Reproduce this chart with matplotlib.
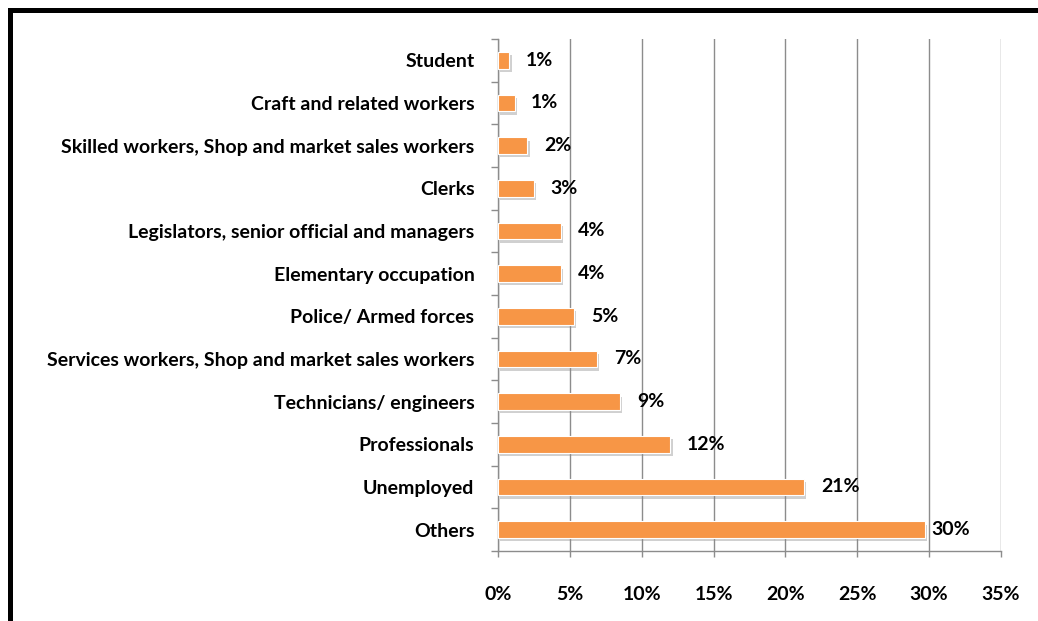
import matplotlib
matplotlib.use("Agg")
import matplotlib.pyplot as plt
import matplotlib.patheffects as pe
from matplotlib.lines import Line2D
from matplotlib.ticker import FixedLocator, FuncFormatter
import numpy as np

# Occupation categories, listed from top to bottom
categories = [
    "Student",
    "Craft and related workers",
    "Skilled workers, Shop and market sales workers",
    "Clerks",
    "Legislators, senior official and managers",
    "Elementary occupation",
    "Police/ Armed forces",
    "Services workers, Shop and market sales workers",
    "Technicians/ engineers",
    "Professionals",
    "Unemployed",
    "Others",
]
# Share of respondents (%)
shares = [0.8, 1.15, 2.05, 2.5, 4.4, 4.4, 5.3, 6.9, 8.5, 12.0, 21.3, 29.7]
x_ticks = [0, 5, 10, 15, 20, 25, 30, 35]

BAR = "#F79646"
GRID = "#8C8C8C"
FONT = ["Lato", "DejaVu Sans"]
FS = 14

fig = plt.figure(figsize=(10.38, 6.21), dpi=100)
ax = fig.add_axes([498 / 1038, 1 - 551 / 621, (1001 - 498) / 1038, (551 - 39) / 621])

n = len(categories)
y = np.arange(n)
bars = ax.barh(y, shares, height=0.39, color=BAR, edgecolor="white",
               linewidth=0.8, zorder=3)
for b in bars:
    b.set_path_effects([
        pe.SimplePatchShadow(offset=(1.6, -2.4), shadow_rgbFace="#8a8a8a", alpha=0.4),
        pe.Normal(),
    ])

ax.set_ylim(n - 0.5, -0.5)
ax.set_xlim(0, 35)

# Value labels to the right of each bar (tighter gap for the longest bar)
vmax = max(shares)
for yi, v in zip(y, shares):
    label = f"{int(v + 0.5)}%"
    dx = 5 if v == vmax else 12
    ax.annotate(label, xy=(v, yi), xytext=(dx, 0), textcoords="offset points",
                ha="left", va="center", fontsize=FS, fontweight="bold",
                family=FONT, color="black", zorder=4)

# Axes styling
ax.xaxis.set_major_locator(FixedLocator(x_ticks))
ax.xaxis.set_major_formatter(FuncFormatter(lambda v, p: f"{int(v)}%"))
ax.grid(axis="x", color=GRID, linewidth=1.0, zorder=0)
ax.set_axisbelow(True)

ax.set_yticks(y)
ax.set_yticklabels(categories)
ax.set_yticks(np.arange(n + 1) - 0.5, minor=True)
ax.tick_params(axis="y", which="major", length=0, pad=17)
ax.tick_params(axis="y", which="minor", length=5, width=1.0, color=GRID)
ax.tick_params(axis="x", which="major", length=4, width=1.0, color=GRID, pad=21)

for lab in ax.get_yticklabels() + ax.get_xticklabels():
    lab.set_family(FONT)
    lab.set_fontweight("bold")
    lab.set_fontsize(FS)
    lab.set_color("black")

for side in ("top", "right"):
    ax.spines[side].set_visible(False)
for side in ("left", "bottom"):
    ax.spines[side].set_color(GRID)
    ax.spines[side].set_linewidth(1.0)

# Black frame along the top and left edges of the figure
lw = 5 * 72 / 100
xl = 9.8 / 1038
yt = 1 - 10.2 / 621
fig.add_artist(Line2D([xl, xl], [0, yt], transform=fig.transFigure,
                      color="black", linewidth=lw, solid_capstyle="projecting"))
fig.add_artist(Line2D([xl, 1], [yt, yt], transform=fig.transFigure,
                      color="black", linewidth=lw, solid_capstyle="projecting"))

fig.savefig("out.png", dpi=100, facecolor="white")
